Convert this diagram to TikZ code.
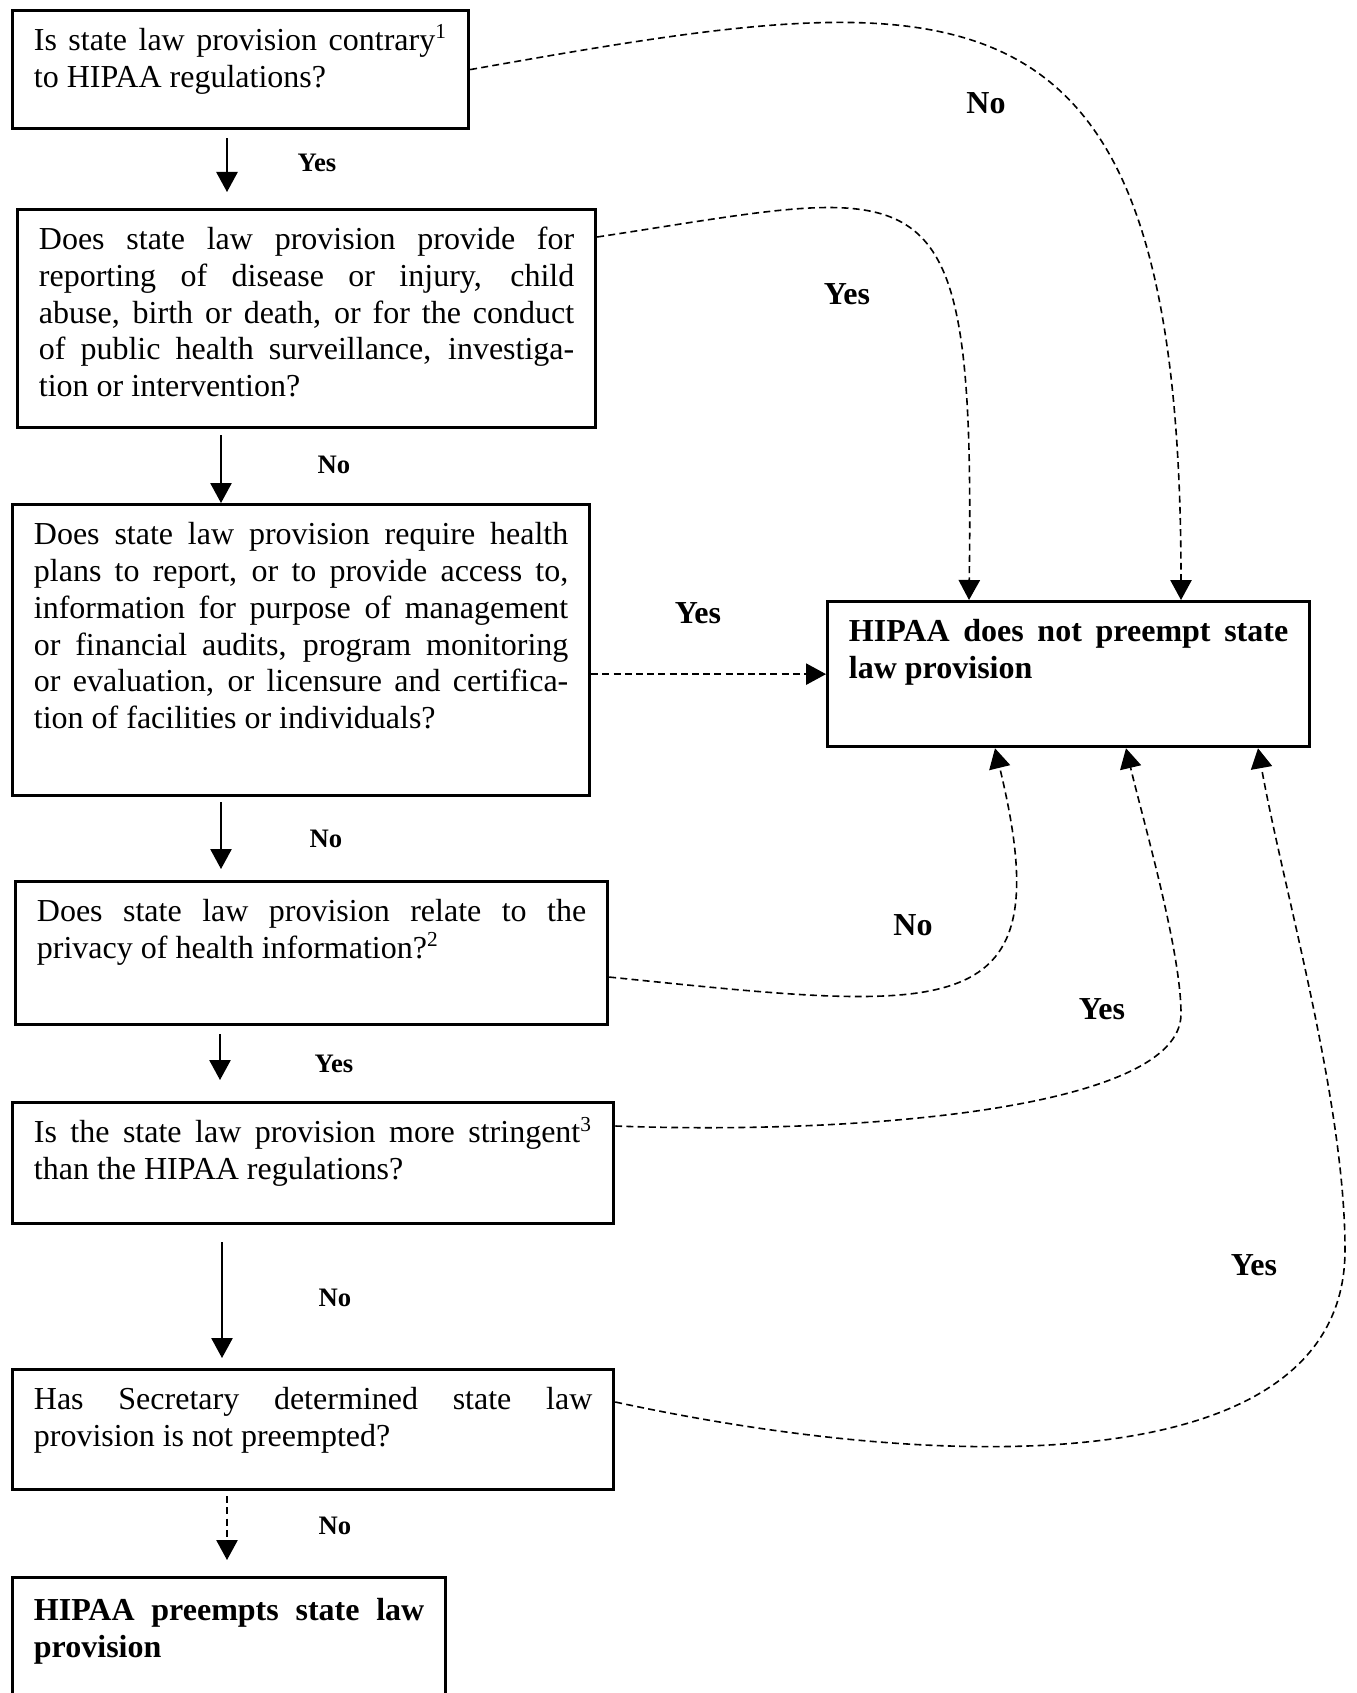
\documentclass[tikz,border=0pt]{standalone}
\usepackage{fontspec}
\setmainfont{Liberation Serif}
\usetikzlibrary{arrows.meta}

\begin{document}
\hyphenpenalty=10000
\begin{tikzpicture}[x=0.375pt,y=-0.375pt,
  qbox/.style={draw, line width=1.2pt, anchor=north west, align=justify,
    inner xsep=8pt, inner ysep=3.5pt, text height=11.5pt,
    font=\fontsize{12}{13.8}\selectfont},
  lab/.style={font=\fontsize{10}{12}\selectfont\bfseries},
  biglab/.style={font=\fontsize{12}{14}\selectfont\bfseries},
  arr/.style={line width=0.6pt, -{Triangle[width=8pt,length=7.5pt]}},
  darr/.style={arr, dash pattern=on 2.6pt off 1.6pt}]
\useasboundingbox (0,0) rectangle (1356,1693);
%
\node[qbox, text width=155pt, text depth=25.75pt] (b1) at (11,9)
  {Is state law provision contrary\textsuperscript{1}\linebreak to HIPAA regulations?};
\node[qbox, text width=200.75pt, text depth=63.25pt] (b2) at (16,208)
  {Does state law provision provide for\linebreak reporting of disease or injury, child\linebreak abuse, birth or death, or for the conduct\linebreak of public health surveillance, investiga-\linebreak tion or intervention?};
\node[qbox, text width=200.4pt, text depth=90.6pt] (b3) at (11,503)
  {Does state law provision require health\linebreak plans to report, or to provide access to,\linebreak information for purpose of management\linebreak or financial audits, program monitoring\linebreak or evaluation, or licensure and certifica-\linebreak tion of facilities or individuals?};
\node[qbox, text width=206pt, text depth=35.1pt] (b4) at (14,880)
  {Does state law provision relate to the\linebreak privacy of health information?\textsuperscript{2}};
\node[qbox, text width=209.4pt, text depth=26.9pt] (b5) at (11,1101)
  {Is the state law provision more stringent\textsuperscript{3}\linebreak than the HIPAA regulations?};
\node[qbox, text width=209.4pt, text depth=26.5pt] (b6) at (11,1368)
  {Has Secretary determined state law\linebreak provision is not preempted?};
\node[qbox, text width=146.4pt, text height=12.7pt, text depth=32.8pt] (b7) at (11,1576)
  {\textbf{HIPAA preempts state law\linebreak provision}};
\node[qbox, text width=164.75pt, text depth=35.9pt] (t) at (826,600)
  {\textbf{HIPAA does not preempt state\linebreak law provision}};
%
\draw[arr] ([shift={(216,8)}]b1.south west) -- ([shift={(211,-16)}]b2.north west);
\draw[arr] ([shift={(205,6)}]b2.south west) -- ([shift={(210,0)}]b3.north west);
\draw[arr] ([shift={(210,5)}]b3.south west) -- ([shift={(207,-11)}]b4.north west);
\draw[arr] ([shift={(206,8)}]b4.south west) -- ([shift={(209,-21)}]b5.north west);
\draw[arr] ([shift={(211,17)}]b5.south west) -- ([shift={(211,-10)}]b6.north west);
\draw[darr] ([shift={(216,5)}]b6.south west) -- ([shift={(216,-16)}]b7.north west);
%
\draw[darr] (b1.east) .. controls +(492,-87) and +(0,-650) .. ([shift={(355,0)}]t.north west);
\draw[darr] ([shift={(0,29)}]b2.north east) .. controls +(336,-51) and +(6,-449) .. ([shift={(143,0)}]t.north west);
\draw[darr] (b3.east |- t.west) -- (t.west);
\draw[darr] ([shift={(0,24)}]b4.east) .. controls +(344,35) and +(68,280) .. ([shift={(169,0)}]t.south west);
\draw[darr] ([shift={(0,25)}]b5.north east) .. controls +(238,9) and +(0,96) .. (1181,1014)
  .. controls +(0,-64) and +(17,72) .. ([shift={(300,0)}]t.south west);
\draw[darr] ([shift={(0,34)}]b6.north east) .. controls +(338,73) and +(0,230) .. (1345,1250)
  .. controls +(0,-150) and +(25,140) .. ([shift={(432,0)}]t.south west);
%
\node[lab] (y1) at (317,163) {Yes};
\node[lab] (n2) at (334,465) {No};
\node[lab] (n3) at (326,839) {No};
\node[lab] (y4) at (334,1064) {Yes};
\node[lab] (n5) at (335,1298) {No};
\node[lab] (n6) at (335,1526) {No};
%
\node[biglab] (nb1) at (986,103) {No};
\node[biglab] (yb2) at (847,294) {Yes};
\node[biglab] (yb3) at (698,613) {Yes};
\node[biglab] (nb4) at (913,925) {No};
\node[biglab] (yb5) at (1102,1009) {Yes};
\node[biglab] (yb6) at (1254,1265) {Yes};
\end{tikzpicture}
\end{document}
